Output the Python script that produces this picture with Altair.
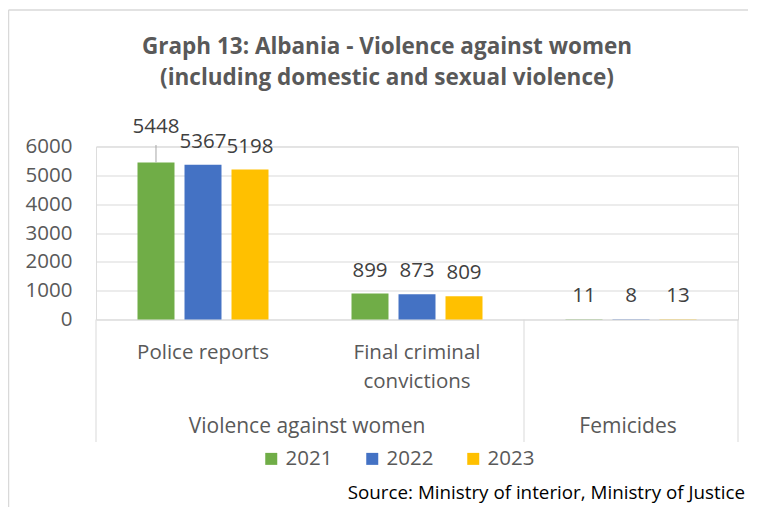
import altair as alt
import pandas as pd

# ---- data ----
categories = ["Police reports", "Final criminal convictions", "Femicides"]
category_labels = ["Police reports", "Final criminal\nconvictions", ""]
groups = ["Violence against women", "Femicides"]
group_spans = [["Police reports", "Final criminal convictions"], ["Femicides"]]
years = ["2021", "2022", "2023"]
values_2021 = [5448, 899, 11]
values_2022 = [5367, 873, 8]
values_2023 = [5198, 809, 13]
colors = ["#70AD47", "#4472C4", "#FFC000"]
y_ticks = [0, 1000, 2000, 3000, 4000, 5000, 6000]
title_text = "Graph 13: Albania - Violence against women\n(including domestic and sexual violence)"
source_text = "Source: Ministry of interior, Ministry of Justice"

rows = []
for yr, vals in zip(years, [values_2021, values_2022, values_2023]):
    for c, v in zip(categories, vals):
        rows.append({"cat": c, "year": yr, "value": v})
df = pd.DataFrame(rows)

FONT = "Open Sans"
GRAY = "#595959"
LINE = "#d9d9d9"
W, H = 642, 173
step = W / len(categories)

xenc = alt.X("cat:N", scale=alt.Scale(domain=categories, paddingInner=0, paddingOuter=0), axis=None)
xoff = alt.XOffset("year:N", scale=alt.Scale(domain=years, paddingInner=0.213, paddingOuter=0.883))
yaxis = alt.Axis(values=y_ticks, tickCount=7, format="d", labelOverlap=False, grid=True, gridColor=LINE,
                 gridWidth=1, domain=False, ticks=False, labelPadding=24, labelFontSize=20.5,
                 labelColor=GRAY, labelFont=FONT, title=None)
yenc = alt.Y("value:Q", scale=alt.Scale(domain=[0, 6000], nice=False, zero=True), axis=yaxis)

base = alt.Chart(df)

bars = base.mark_bar().encode(
    x=xenc, xOffset=xoff, y=yenc,
    color=alt.Color("year:N", scale=alt.Scale(domain=years, range=colors),
                    legend=alt.Legend(orient="none", legendX=165, legendY=302, direction="horizontal",
                                      title=None, symbolType="square", symbolSize=144,
                                      symbolStrokeWidth=0, labelFontSize=20.5, labelColor=GRAY,
                                      labelFont=FONT, columnPadding=29, labelOffset=4, padding=0)),
)

is_special = (alt.datum.cat == "Police reports") & (alt.datum.year == "2021")

labels = base.transform_filter(~is_special).mark_text(
    font=FONT, fontSize=20.5, color="#404040", baseline="middle", dy=-23
).encode(x=xenc, xOffset=xoff, y=yenc, text="value:Q")

special_label = base.transform_filter(is_special).mark_text(
    font=FONT, fontSize=20.5, color="#404040", baseline="middle", dy=-35
).encode(x=xenc, xOffset=xoff, y=yenc, text="value:Q")

leader = base.transform_filter(is_special).mark_rule(color="#a6a6a6", strokeWidth=1).encode(
    x=xenc, xOffset=xoff, y=yenc, y2=alt.value(-1.5)
)

one = pd.DataFrame({"a": [0]})

title = alt.Chart(one).mark_text(
    text=title_text, font=FONT, fontSize=22.5, fontWeight="bold", color=GRAY,
    lineBreak="\n", lineHeight=31, baseline="middle", align="center"
).encode(x=alt.value(291), y=alt.value(-99.5))

cat_df = pd.DataFrame({"cat": categories, "label": category_labels})
cat_text = alt.Chart(cat_df).mark_text(
    font=FONT, fontSize=20.5, color=GRAY, lineBreak="\n", lineHeight=29, baseline="top", align="center"
).encode(x=xenc, y=alt.value(196), text="label:N")

grp_rows = []
for g, span in zip(groups, group_spans):
    idx = [categories.index(s) for s in span]
    grp_rows.append({"group": g, "px": (min(idx) + max(idx) + 1) / 2 * step})
grp_df = pd.DataFrame(grp_rows)
grp_text = alt.Chart(grp_df).mark_text(
    font=FONT, fontSize=21, color=GRAY, baseline="middle", align="center", dx=-3
).encode(x=alt.X("px:Q", scale=None), y=alt.value(280), text="group:N")

sep_df = pd.DataFrame({"px": [0, 2 * step, W]})
seps = alt.Chart(sep_df).mark_rule(color=LINE, strokeWidth=1).encode(
    x=alt.X("px:Q", scale=None), y=alt.value(H), y2=alt.value(295.5)
)

frame_top = alt.Chart(one).mark_rule(color=LINE, strokeWidth=1.5).encode(
    x=alt.value(-87.5), x2=alt.value(660), y=alt.value(-136.5)
)
frame_left = alt.Chart(one).mark_rule(color=LINE, strokeWidth=1.5).encode(
    x=alt.value(-87.5), y=alt.value(-136.5), y2=alt.value(370)
)

source = alt.Chart(one).mark_text(
    text=source_text, font=FONT, fontSize=18.8, color="#000000", baseline="middle", align="right"
).encode(x=alt.value(649), y=alt.value(346))

chart = alt.layer(
    frame_top, frame_left, bars, leader, labels, special_label, title, cat_text, grp_text, seps, source
).properties(
    width=W, height=H,
    autosize=alt.AutoSizeParams(type="none"),
    padding={"left": 88, "top": 138.5, "right": 10, "bottom": 188},
).configure_view(stroke=None).configure(background="white")

chart.save("out.html", embed_options={"renderer": "svg", "actions": False})
